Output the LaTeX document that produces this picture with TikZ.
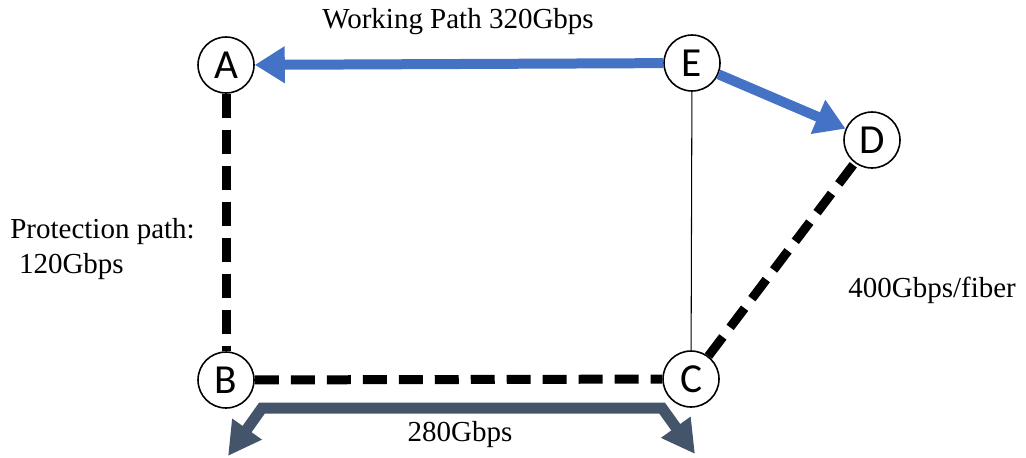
\documentclass[tikz,border=0pt]{standalone}
\usepackage{fontspec}
\setmainfont{Liberation Serif}
\newfontfamily\nodefont{Carlito}
\usepackage{xcolor}
\usepackage{tikz}
\usetikzlibrary{arrows.meta,calc}
\definecolor{workblue}{HTML}{4472C4}
\definecolor{slate}{HTML}{44546A}
\tikzstyle{workarrow} = [workblue,line width=0.2cm,-{Triangle[length=0.6cm,width=0.7cm]}]
\tikzstyle{spanarrow} = [slate,line width=0.22cm,{Triangle[length=0.66cm,width=0.68cm]}-{Triangle[length=0.66cm,width=0.68cm]}]

\begin{document}
\begin{tikzpicture}
[x=0.02cm, y=-0.02cm,
sitebox/.style={circle,draw=black,line width=0.9pt,fill=white,minimum size=1.12cm,inner sep=0pt,font=\nodefont\fontsize{23.5}{23.5}\selectfont},
fiberline/.style={line width=0.18cm,dash pattern=on 0.48cm off 0.24cm},
labeltext/.style={font=\fontsize{16.5}{20}\selectfont,inner sep=0pt}]
\useasboundingbox (0,0) rectangle (1026,457);
\node[sitebox] (A) at (226,65) {A};
\node[sitebox] (E) at (692,63) {E};
\node[sitebox] (D) at (872,140) {D};
\node[sitebox] (B) at (226,380) {B};
\node[sitebox] (C) at (691,379) {C};

% fiber spans
\draw[line width=0.6pt] (E) -- (C);
\draw[fiberline] (A) -- (B);
\draw[fiberline] (B) -- (C);
\draw[fiberline] (C) -- (D);

% working path
\draw[workarrow] (E) -- (A);
\draw[workarrow] (E) -- (D);

% protection span
\coordinate (lend) at (228,456);
\coordinate (rend) at (695,454);
\draw[spanarrow] (lend) -- (262,408) -- (662,408) -- (rend);

\node[labeltext] (work) at (458,22) {Working Path 320Gbps};
\node[labeltext,anchor=west,align=left] (prot) at (10,249) {Protection path:\\\hspace{0.3em}120Gbps};
\node[labeltext,anchor=west] (fiber) at (848,290) {400Gbps/fiber};
\node[labeltext] (span) at (460,435) {280Gbps};
\end{tikzpicture}
\end{document}
